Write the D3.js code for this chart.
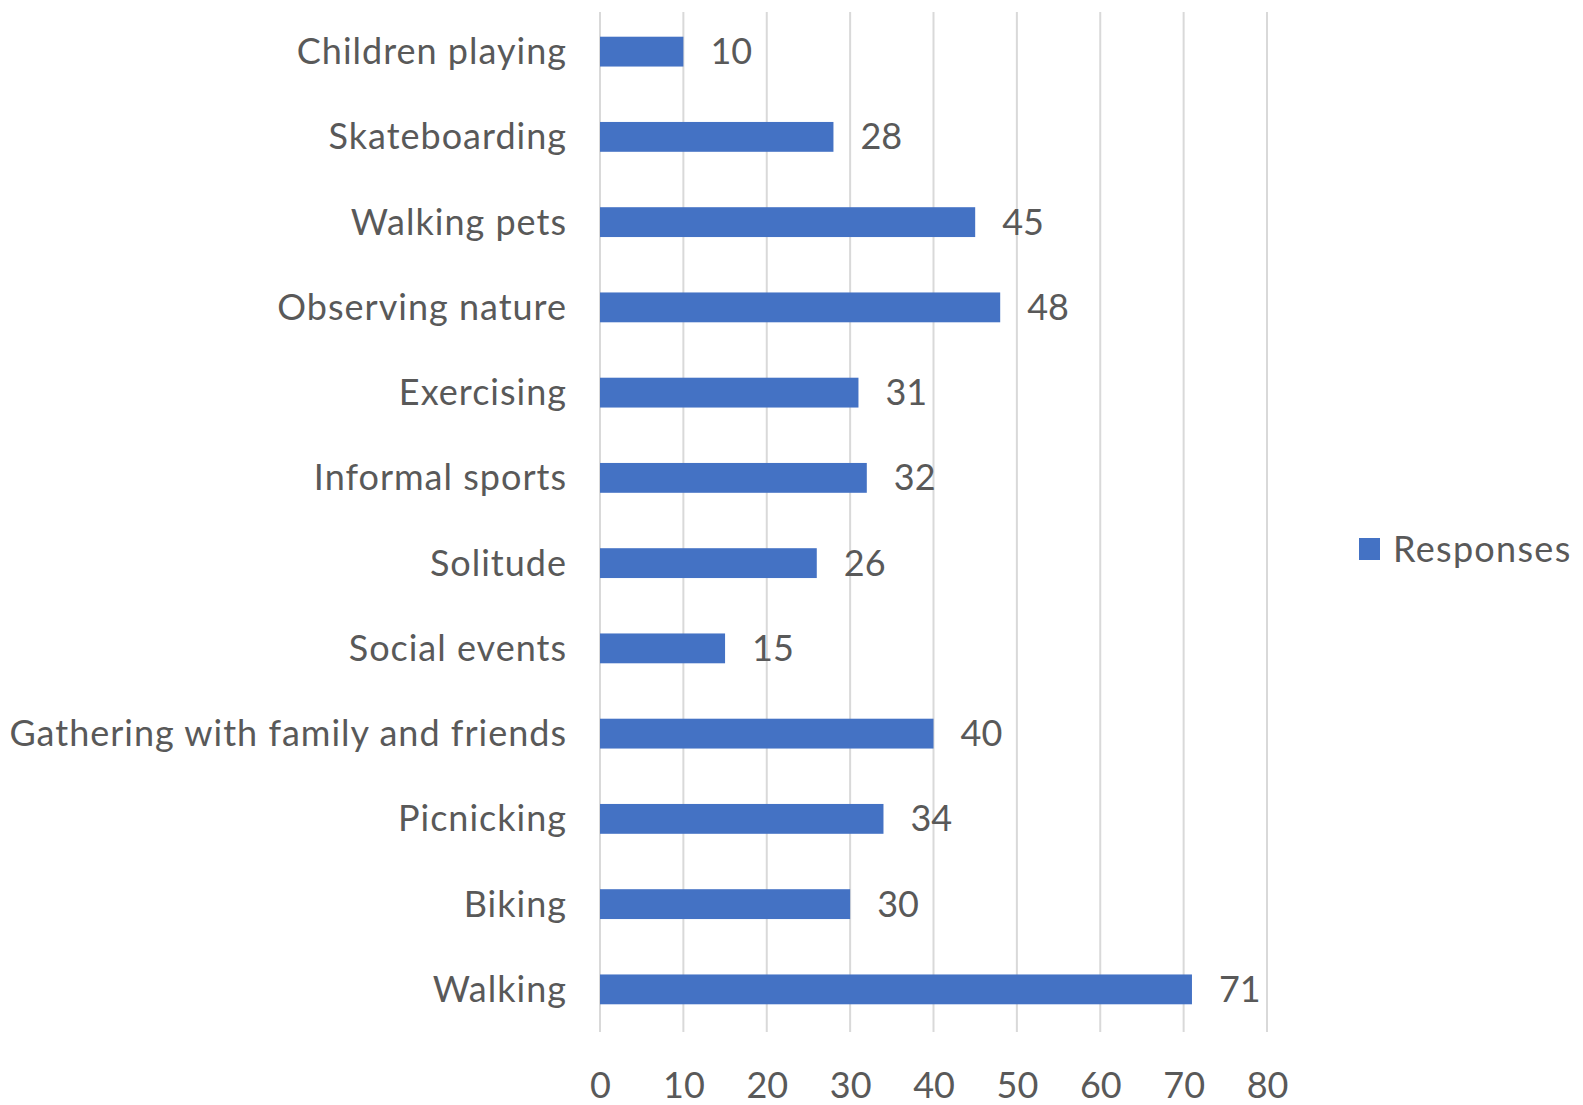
<!DOCTYPE html>
<html>
<head>
<meta charset="utf-8">
<script src="https://cdn.jsdelivr.net/npm/d3@7"></script>
<style>
  html, body { margin: 0; padding: 0; background: #fff; }
  svg { display: block; }
  text { font-family: Lato, "Open Sans", sans-serif; fill: #595959; }
</style>
</head>
<body>
<svg id="chart" width="1583" height="1105"></svg>
<script>
const categories = ["Children playing", "Skateboarding", "Walking pets", "Observing nature", "Exercising", "Informal sports", "Solitude", "Social events", "Gathering with family and friends", "Picnicking", "Biking", "Walking"];
const responses = [10, 28, 45, 48, 31, 32, 26, 15, 40, 34, 30, 71];
const xTicks = [0, 10, 20, 30, 40, 50, 60, 70, 80];
const seriesName = "Responses";

const data = categories.map((c, i) => ({ category: c, value: responses[i] }));

const svg = d3.select("#chart");
const plotLeft = 600, plotRight = 1267, plotTop = 9, plotBottom = 1032;
const fontSize = 36;

const x = d3.scaleLinear().domain([0, 80]).range([plotLeft, plotRight]);
const y = d3.scaleBand().domain(categories).range([plotTop, plotBottom]).paddingInner(0.65).paddingOuter(0.325);

// gridlines
svg.append("g").selectAll("line").data(xTicks).join("line")
  .attr("x1", d => x(d)).attr("x2", d => x(d))
  .attr("y1", 12).attr("y2", 1032)
  .attr("stroke", "#d9d9d9").attr("stroke-width", 2);

// bottom axis labels
const xAxis = d3.axisBottom(x).tickValues(xTicks).tickSize(0).tickPadding(0);
const gx = svg.append("g").attr("transform", `translate(0,${1032})`).call(xAxis);
gx.select(".domain").remove();
gx.selectAll("text").attr("y", 53).attr("dy", "0.35em")
  .style("font-size", fontSize + "px").style("font-family", "Lato, 'Open Sans', sans-serif").attr("fill", "#595959");

// category labels
const yAxis = d3.axisLeft(y).tickSize(0).tickPadding(0);
const gy = svg.append("g").attr("transform", `translate(567,0)`).call(yAxis);
gy.select(".domain").remove();
gy.selectAll("text").attr("dy", "0.35em")
  .style("font-size", fontSize + "px").style("letter-spacing", "1px")
  .style("font-family", "Lato, 'Open Sans', sans-serif").attr("fill", "#595959");

// bars
svg.append("g").selectAll("rect").data(data).join("rect")
  .attr("x", x(0))
  .attr("y", d => y(d.category))
  .attr("width", d => x(d.value) - x(0))
  .attr("height", y.bandwidth())
  .attr("fill", "#4472c4");

// value labels
svg.append("g").selectAll("text").data(data).join("text")
  .attr("x", d => x(d.value) + 27)
  .attr("y", d => y(d.category) + y.bandwidth() / 2)
  .attr("dy", "0.35em")
  .style("font-size", fontSize + "px")
  .text(d => d.value);

// legend
const lg = svg.append("g").attr("transform", "translate(1359,538)");
lg.append("rect").attr("width", 21).attr("height", 22).attr("fill", "#4472c4");
lg.append("text").attr("x", 34).attr("y", 11).attr("dy", "0.35em")
  .style("font-size", fontSize + "px").style("letter-spacing", "1.3px").text(seriesName);
</script>
</body>
</html>
